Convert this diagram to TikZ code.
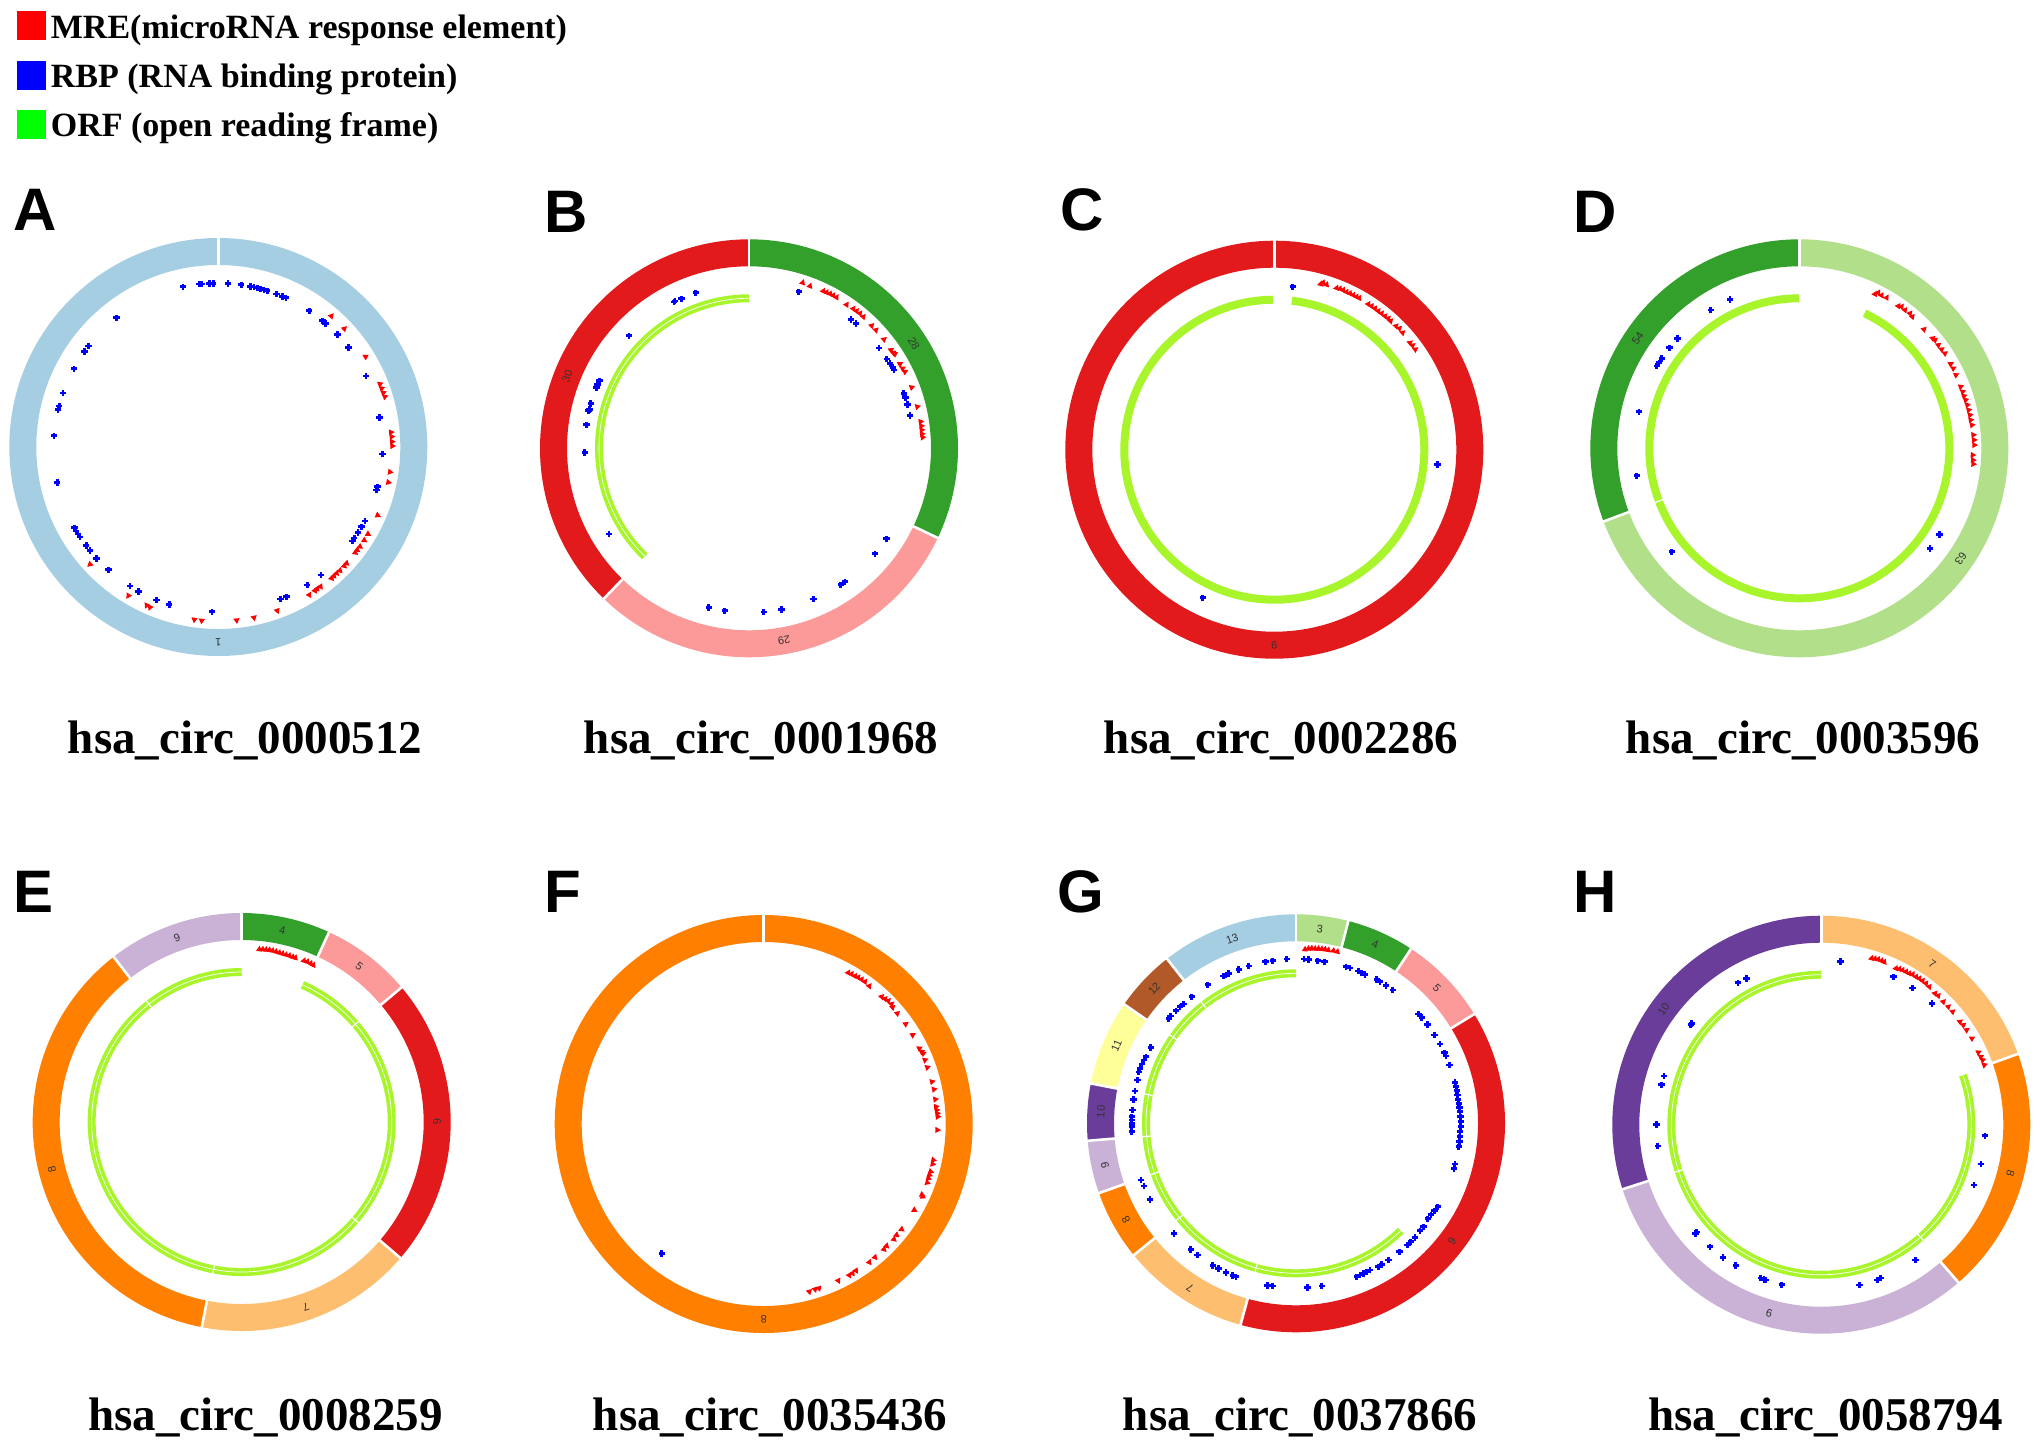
\documentclass[tikz,border=0pt]{standalone}
\usepackage{fontspec}
\setmainfont{Liberation Serif}
\newfontfamily\arialfont{Liberation Sans}
\definecolor{cLB}{HTML}{A6CEE3}
\definecolor{cLG}{HTML}{B2DF8A}
\definecolor{cDG}{HTML}{33A02C}
\definecolor{cPK}{HTML}{FB9A99}
\definecolor{cRD}{HTML}{E31A1C}
\definecolor{cLO}{HTML}{FDBF6F}
\definecolor{cOR}{HTML}{FF7F00}
\definecolor{cLV}{HTML}{CAB2D6}
\definecolor{cPU}{HTML}{6A3D9A}
\definecolor{cYE}{HTML}{FFFF99}
\definecolor{cBR}{HTML}{B15928}
\definecolor{orfc}{HTML}{A8F52C}
\definecolor{mrered}{HTML}{FF0000}
\definecolor{rbpblue}{HTML}{0000FF}
\definecolor{legred}{HTML}{FF0000}
\definecolor{legblue}{HTML}{0000FF}
\definecolor{leggreen}{HTML}{00FF00}
\newcommand\ringseg[3]{\draw[segline, draw=#1] ({#2-90}:195.5) arc[start angle={#2-90}, end angle={#3-90}, radius=195.5];}
\newcommand\ringcut[1]{\draw[cutline] ({#1-90}:180) -- ({#1-90}:212);}
\newcommand\seglabel[3]{\node[seglab, rotate={-#2}] (#1) at ({#2-90}:195.5) {#3};}
\newcommand\orfarc[2]{\draw[orfline] ({#1-90}:150) arc[start angle={#1-90}, end angle={#2-90}, radius=150];}
\newcommand\orfmid[2]{\draw[orfmidline] ({#1-90}:150) arc[start angle={#1-90}, end angle={#2-90}, radius=150];}
\newcommand\orftick[1]{\draw[orftickline] ({#1-90}:145) -- ({#1-90}:155);}
\newcommand\rbps[1]{\foreach \px/\py in {#1} {\fill[rbpblue] (\px,\py) +(-9.5,-4.2) rectangle +(9.5,4.2); \fill[rbpblue] (\px,\py) +(-4.2,-9.5) rectangle +(4.2,9.5);}}
\newcommand\mres[3]{\foreach \px/\py in {#3} {\pgfmathsetmacro\ang{atan2(#2-\py,\px-#1)-90}\fill[mrered, shift={(\px,\py)}, rotate=\ang] (0,-11) -- (9.5,5.8) -- (-9.5,5.8) -- cycle;}}
\begin{document}
\begin{tikzpicture}[x=0.5pt,y=-0.5pt,
  segline/.style={line width=13.5pt},
  cutline/.style={draw=white, line width=1.3pt},
  orfline/.style={draw=orfc, line width=4pt},
  orfmidline/.style={draw=white, line width=0.35pt},
  orftickline/.style={draw=white, line width=0.6pt},
  seglab/.style={font=\arialfont\fontsize{5.5}{6}\selectfont, text=black!80, inner sep=0pt},
  panlet/.style={font=\arialfont\bfseries\fontsize{30}{30}\selectfont, anchor=base west, inner sep=0pt},
  ptitle/.style={font=\bfseries\fontsize{23.5}{26}\selectfont, anchor=base, inner sep=0pt},
  legsq/.style={rectangle, inner sep=0pt, minimum size=14.5pt},
  legtxt/.style={font=\bfseries\fontsize{17}{19}\selectfont, anchor=base west, inner sep=0pt}]
\fill[white] (0,0) rectangle (2040,1446);
\useasboundingbox (0,0) rectangle (2040,1446);
% legend
\node[legsq, fill=legred] (sqm) at (31,25) {};
\node[legsq, fill=legblue] (sqr) at (31,75.5) {};
\node[legsq, fill=leggreen] (sqo) at (31,124.5) {};
\node[legtxt] (tm) at (50.5,38.3) {MRE(microRNA response element)};
\node[legtxt] (tr) at (50.5,87) {RBP (RNA binding protein)};
\node[legtxt] (to) at (50.5,136) {ORF (open reading frame)};
% letters
\node[panlet] (LA) at (13,230) {A};
\node[panlet] (LB) at (544,232) {B};
\node[panlet] (LC) at (1060,230) {C};
\node[panlet] (LD) at (1573,232) {D};
\node[panlet] (LE) at (13,912) {E};
\node[panlet] (LF) at (544,912) {F};
\node[panlet] (LG) at (1057,912) {G};
\node[panlet] (LH) at (1573,912) {H};
% titles
\node[ptitle] (TA) at (245,753) {hsa\_circ\_0000512};
\node[ptitle] (TB) at (761,753) {hsa\_circ\_0001968};
\node[ptitle] (TC) at (1281,753) {hsa\_circ\_0002286};
\node[ptitle] (TD) at (1803,753) {hsa\_circ\_0003596};
\node[ptitle] (TE) at (265.5,1430) {hsa\_circ\_0008259};
\node[ptitle] (TF) at (770,1430) {hsa\_circ\_0035436};
\node[ptitle] (TG) at (1300,1430) {hsa\_circ\_0037866};
\node[ptitle] (TH) at (1825.5,1430) {hsa\_circ\_0058794};
% ---------- Panel A
\begin{scope}[shift={(218.3,447)}]
\ringseg{cLB}{0}{360}
\ringcut{0}
\seglabel{sA1}{180}{1}
\end{scope}
\begin{scope}[shift={(0,180)}, scale=1/3]
\rbps{549/320,598/312,606/312,628/310,640/310,684/310,724/314,752/319,762/321,772/323,782/326,792/329,802/332,830/342,848/349,858/353,928/392,968/422,977/430,1013/463,1046/502,1098/588,1139/712,1148/822,1133/920,1130/930,1095/1023,1085/1040,1074/1057,1063/1074,1058/1083,963/1185,922/1215,860/1250,842/1257,636/1295,508/1273,470/1260,416/1234,390/1218,326/1169,290/1135,270/1111,259/1096,240/1071,234/1062,228/1053,224/1043,172/907,162/767,174/688,178/678,189/639,222/566,254/514,266/498,350/413}
\mres{655}{801}{994/408,1033/446,1097/530,1140/612,1145/625,1150/638,1155/650,1173/757,1175/770,1176/785,1177/798,1170/876,1165/907,1133/1006,1104/1062,1093/1081,1080/1100,1072/1110,1066/1118,1040/1150,1033/1158,1020/1172,1010/1180,1002/1188,995/1195,962/1220,952/1226,945/1232,928/1245,832/1292,762/1313,710/1321,605/1322,583/1319,450/1282,440/1276,385/1247,270/1153}
\end{scope}
% ---------- Panel B
\begin{scope}[shift={(749,448.3)}]
\ringseg{cDG}{0}{115.4}
\ringseg{cPK}{115.4}{224}
\ringseg{cRD}{224}{360}
\ringcut{0}\ringcut{115.4}\ringcut{224}
\seglabel{sB28}{57.5}{28}
\seglabel{sB29}{169.7}{29}
\seglabel{sB30}{291.6}{30}
\orfarc{224}{360}
\orfmid{224}{360}
\end{scope}
\begin{scope}[shift={(520,180)}, scale=1/3]
\rbps{836/335,527/338,484/356,465/363,462/366,327/467,238/602,232/613,229/622,212/670,208/688,205/692,199/734,194/817,267/1062,993/418,1008/430,1077/504,1100/537,1110/550,1118/562,1122/570,1151/640,1156/652,1162/673,1170/706,1099/1076,1065/1121,975/1205,962/1214,880/1257,784/1288,731/1296,614/1292,566/1282}
\mres{687}{805}{848/308,870/318,910/333,920/337,930/341,940/346,950/352,980/374,1000/386,1010/393,1020/400,1030/410,1055/437,1068/450,1092/478,1113/510,1120/518,1125/522,1140/552,1148/565,1155/575,1175/622,1192/680,1202/725,1204/738,1205/750,1206/762,1208/772}
\end{scope}
% ---------- Panel C
\begin{scope}[shift={(1274.3,449.7)}]
\ringseg{cRD}{0}{360}
\ringcut{0}
\seglabel{sC9}{180}{9}
\orfarc{6.7}{359.5}
\end{scope}
\begin{scope}[shift={(1040,180)}, scale=1/3]
\rbps{758/320,1192/853,488/1253}
\mres{703}{809}{842/312,850/308,860/314,890/324,900/326,910/330,920/336,930/340,940/345,950/350,958/354,985/372,995/378,1005/385,1015/393,1025/400,1035/408,1045/415,1052/423,1068/438,1078/445,1088/458,1110/488,1118/496,1126/508}
\end{scope}
% ---------- Panel D
\begin{scope}[shift={(1799.3,448.3)}]
\ringseg{cLG}{0}{249.5}
\ringseg{cDG}{249.5}{360}
\ringcut{0}\ringcut{249.5}
\seglabel{sD63}{124.3}{63}
\seglabel{sD54}{304.3}{54}
\orfarc{25.8}{360}
\orftick{249.4}
\end{scope}
\begin{scope}[shift={(1540,180)}, scale=1/3]
\rbps{570/358,512/390,412/475,388/503,365/535,357/548,350/558,297/695,290/887,395/1115,1198/1063,1170/1105}
\mres{778}{805}{1005/342,1015/338,1025/346,1040/353,1075/378,1085/380,1095/390,1110/400,1117/410,1152/448,1178/475,1185/480,1195/495,1205/508,1215/520,1232/552,1240/565,1248/585,1262/620,1268/635,1272/648,1277/660,1282/675,1286/690,1290/705,1292/720,1296/735,1300/765,1302/780,1303/795,1298/825,1299/840,1300/852}
\end{scope}
% ---------- Panel E
\begin{scope}[shift={(241.7,1122)}]
\ringseg{cDG}{0}{24.7}
\ringseg{cPK}{24.7}{49.9}
\ringseg{cRD}{49.9}{130.6}
\ringseg{cLO}{130.6}{191}
\ringseg{cOR}{191}{322.2}
\ringseg{cLV}{322.2}{360}
\ringcut{0}\ringcut{24.7}\ringcut{49.9}\ringcut{130.6}\ringcut{191}\ringcut{322.2}
\seglabel{sE4}{12}{4}
\seglabel{sE5}{37}{5}
\seglabel{sE6}{90}{6}
\seglabel{sE7}{160.8}{7}
\seglabel{sE8}{256}{8}
\seglabel{sE9}{340.7}{9}
\orfarc{23.9}{360}
\orfmid{23.9}{360}
\orftick{49.3}\orftick{130.8}\orftick{190.8}\orftick{321.8}
\end{scope}
\begin{scope}[shift={(0,860)}, scale=1/3]
\mres{725}{786}{778/268,788/268,798/269,808/270,818/272,828/275,838/278,848/281,858/284,868/287,878/291,886/293,912/302,922/305,932/310,940/315}
\end{scope}
% ---------- Panel F
\begin{scope}[shift={(763.7,1124)}]
\ringseg{cOR}{0}{360}
\ringcut{0}
\seglabel{sF8}{180}{8}
\end{scope}
\begin{scope}[shift={(520,860)}, scale=1/3]
\rbps{425/1180}
\mres{731}{792}{985/338,995/342,1005/348,1015/352,1025/358,1035/365,1048/378,1085/410,1095/416,1105/422,1115/432,1118/442,1132/460,1157/492,1178/525,1198/565,1205/575,1210/580,1215/600,1222/622,1236/665,1242/688,1246/718,1248/740,1250/750,1252/760,1253/770,1252/810,1240/900,1238/912,1232/935,1228/945,1225/955,1222/968,1206/1004,1208/1010,1183/1050,1145/1108,1130/1125,1122/1138,1100/1158,1092/1168,1065/1192,1048/1207,1008/1232,998/1240,988/1246,955/1262,897/1285,885/1288,868/1295}
\end{scope}
% ---------- Panel G
\begin{scope}[shift={(1296,1123.3)}]
\ringseg{cLG}{0}{14.5}
\ringseg{cDG}{14.5}{33.4}
\ringseg{cPK}{33.4}{58.5}
\ringseg{cRD}{58.5}{195.4}
\ringseg{cLO}{195.4}{230.9}
\ringseg{cOR}{230.9}{250.5}
\ringseg{cLV}{250.5}{265.2}
\ringseg{cPU}{265.2}{281}
\ringseg{cYE}{281}{304.7}
\ringseg{cBR}{304.7}{321.9}
\ringseg{cLB}{321.9}{360}
\ringcut{0}\ringcut{14.5}\ringcut{33.4}\ringcut{58.5}\ringcut{195.4}\ringcut{230.9}\ringcut{250.5}\ringcut{265.2}\ringcut{281}\ringcut{304.7}\ringcut{321.9}
\seglabel{sG3}{7}{3}
\seglabel{sG4}{23.9}{4}
\seglabel{sG5}{46.1}{5}
\seglabel{sG6}{127.1}{6}
\seglabel{sG7}{212.8}{7}
\seglabel{sG8}{240.4}{8}
\seglabel{sG9}{257.7}{9}
\seglabel{sG10}{273.4}{10}
\seglabel{sG11}{293.3}{11}
\seglabel{sG12}{313.5}{12}
\seglabel{sG13}{340.9}{13}
\orfarc{135.7}{360}
\orfmid{135.7}{360}
\orftick{195.4}\orftick{231}\orftick{250.5}\orftick{265}\orftick{281}\orftick{305}\orftick{322}
\end{scope}
\begin{scope}[shift={(1040,860)}, scale=1/3]
\rbps{740/297,698/302,676/305,626/318,596/328,566/340,558/344,550/348,503/374,455/410,430/432,420/440,408/452,392/468,386/475,332/562,318/590,312/600,306/612,300/625,296/636,292/660,285/693,280/718,277/750,275/770,275/780,275/790,275/800,275/815,303/960,312/978,330/1018,402/1120,452/1168,472/1185,518/1216,535/1225,558/1237,578/1246,588/1250,682/1276,698/1278,802/1282,845/1278,792/297,805/298,833/302,853/305,918/320,930/324,955/333,965/338,975/343,1010/358,1020/365,1038/376,1058/390,1135/462,1145/472,1162/493,1183/525,1200/552,1213/578,1218/588,1228/615,1245/667,1248/680,1250/692,1252/705,1254/718,1256/730,1258/742,1260/755,1261/770,1262/785,1262/800,1260/815,1259/830,1258/845,1256/860,1245/912,1242/925,1193/1040,1183/1052,1173/1064,1163/1076,1150/1100,1140/1112,1125/1132,1112/1145,1102/1155,1078/1175,1045/1200,1025/1213,1015/1220,990/1230,980/1235,970/1240,960/1245,950/1250}
\mres{768}{790}{795/268,805/266,815/265,825/266,835/266,845/267,855/268,865/270,880/272,892/275}
\end{scope}
% ---------- Panel H
\begin{scope}[shift={(1821.3,1124.7)}]
\ringseg{cLO}{0}{70.2}
\ringseg{cOR}{70.2}{139}
\ringseg{cLV}{139}{252}
\ringseg{cPU}{252}{360}
\ringcut{0}\ringcut{70.2}\ringcut{139}\ringcut{252}
\seglabel{sH7}{34.6}{7}
\seglabel{sH8}{104.5}{8}
\seglabel{sH9}{195.5}{9}
\seglabel{sH10}{306.2}{10}
\orfarc{70.7}{360}
\orfmid{70.7}{360}
\orftick{138.6}\orftick{252}
\end{scope}
\begin{scope}[shift={(1540,860)}, scale=1/3]
\rbps{901/304,619/355,594/368,455/490,452/494,372/648,364/674,349/793,353/858,470/1116,466/1120,510/1160,549/1192,587/1216,662/1254,672/1258,676/1260,725/1274,958/1275,1012/1260,1022/1254,1126/1200,1302/975,1323/912,1335/827,1060/350,1117/384,1176/430}
\mres{844}{794}{995/295,1005/296,1015/298,1025/302,1033/306,1068/325,1078/327,1088/330,1098/335,1108/340,1118/343,1128/350,1138/355,1148/362,1158/370,1168/380,1185/400,1195/407,1210/425,1225/440,1238/455,1260/485,1270/495,1280/510,1296/535,1315/577,1322/590,1328/600,1333/615}
\end{scope}
\end{tikzpicture}
\end{document}
